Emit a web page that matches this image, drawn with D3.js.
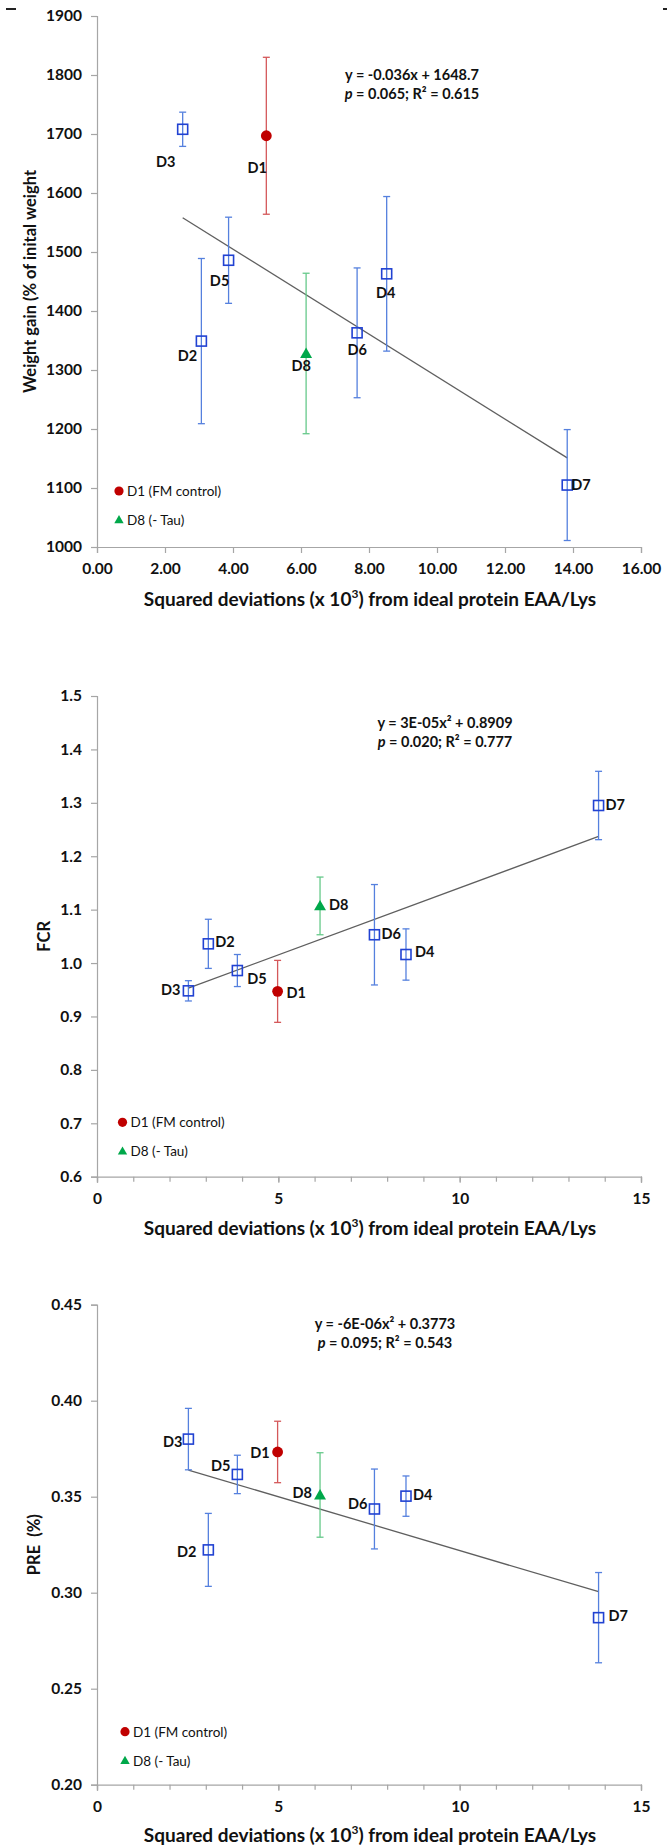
<!DOCTYPE html>
<html>
<head>
<meta charset="utf-8">
<script src="https://cdn.jsdelivr.net/npm/d3@7"></script>
<style>
  html, body { margin: 0; padding: 0; background: #fff; }
  svg { display: block; font-family: Lato, "Open Sans", sans-serif; }
</style>
</head>
<body>
<svg id="fig" width="667" height="1846"></svg>
<script>
// ---------------- DATA ----------------
const diets = ["D1", "D2", "D3", "D4", "D5", "D6", "D7", "D8"];
const groups = ["control", "test", "test", "test", "test", "test", "test", "tau"];
// squared deviations (x 10^3) from ideal protein EAA/Lys
const sqDev = [4.98, 3.07, 2.52, 8.52, 3.87, 7.65, 13.83, 6.15];

// weight gain (% of initial weight) mean and error
const wgMean = [1697, 1349, 1708, 1463, 1486, 1363, 1105, 1328];
const wgErr  = [133, 140, 29, 131, 73, 110, 94, 136];
const wgTrendX = [2.52, 13.83];
const wgTrendY = [1558, 1151];
const wgEq = ["y = -0.036x + 1648.7", "p = 0.065; R² = 0.615"];
const wgYTicks = [1000, 1100, 1200, 1300, 1400, 1500, 1600, 1700, 1800, 1900];
const wgXTicks = [0, 2, 4, 6, 8, 10, 12, 14, 16];

// FCR
const fcrMean = [0.947, 1.036, 0.948, 1.016, 0.986, 1.053, 1.295, 1.107];
const fcrErr  = [0.058, 0.046, 0.019, 0.048, 0.030, 0.094, 0.064, 0.054];
const fcrTrendX = [2.52, 13.83];
const fcrTrendY = [0.953, 1.237];
const fcrEq = ["y = 3E-05x² + 0.8909", "p = 0.020; R² = 0.777"];
const fcrYTicks = [0.6, 0.7, 0.8, 0.9, 1.0, 1.1, 1.2, 1.3, 1.4, 1.5];
const fcrXTicks = [0, 5, 10, 15];

// PRE (%)
const preMean = [0.3733, 0.3223, 0.380, 0.3503, 0.3616, 0.3436, 0.287, 0.3509];
const preErr  = [0.016, 0.019, 0.016, 0.0105, 0.010, 0.0208, 0.0235, 0.022];
const preTrendX = [2.52, 13.83];
const preTrendY = [0.3639, 0.3005];
const preEq = ["y = -6E-06x² + 0.3773", "p = 0.095; R² = 0.543"];
const preYTicks = [0.20, 0.25, 0.30, 0.35, 0.40, 0.45];
const preXTicks = [0, 5, 10, 15];

const legendLabels = ["D1 (FM control)", "D8 (- Tau)"];
const xTitle = "Squared deviations (x 10";

// ---------------- STYLE ----------------
const C = {
  axis: "#a6a6a6",
  trend: "#5f5f5f",
  blue: "#2142d2", blueErr: "#5580de",
  red: "#c00000", redErr: "#d4585a",
  green: "#00a84a", greenErr: "#66c98a",
  text: "#111"
};
const colorOf = g => g === "control" ? C.red : g === "tau" ? C.green : C.blue;
const errColorOf = g => g === "control" ? C.redErr : g === "tau" ? C.greenErr : C.blueErr;

const svg = d3.select("#fig");

// crop marks at top corners
svg.append("line").attr("x1", 6).attr("x2", 16).attr("y1", 9).attr("y2", 9).attr("stroke", "#222").attr("stroke-width", 2);
svg.append("line").attr("x1", 663).attr("x2", 667).attr("y1", 9).attr("y2", 9).attr("stroke", "#222").attr("stroke-width", 2);

function drawChart(cfg) {
  const x = d3.scaleLinear().domain(cfg.xDomain).range([97, 641]);
  const y = d3.scaleLinear().domain(cfg.yDomain).range([cfg.bottom, cfg.top]);
  const g = svg.append("g");

  // y axis
  const yAxis = d3.axisLeft(y).tickValues(cfg.yTicks).tickFormat(cfg.yFmt).tickSize(6).tickPadding(9);
  const ya = g.append("g").attr("transform", "translate(97,0)").call(yAxis);
  ya.select(".domain").attr("stroke", C.axis).attr("stroke-width", 1.2);
  ya.selectAll(".tick line").attr("stroke", C.axis).attr("stroke-width", 1.2);
  ya.selectAll(".tick text").attr("font-size", 15.5).attr("font-weight", 700).attr("fill", C.text)
    .attr("font-family", "Lato, sans-serif");

  // x axis
  const xAxis = d3.axisBottom(x).tickValues(cfg.xTicks).tickFormat(cfg.xFmt).tickSize(6).tickPadding(10);
  const xa = g.append("g").attr("transform", `translate(0,${cfg.bottom})`).call(xAxis);
  xa.select(".domain").attr("stroke", C.axis).attr("stroke-width", 1.2);
  xa.selectAll(".tick line").attr("stroke", C.axis).attr("stroke-width", 1.2);
  xa.selectAll(".tick text").attr("font-size", 15.5).attr("font-weight", 700).attr("fill", C.text)
    .attr("font-family", "Lato, sans-serif");
  if (cfg.minor) {
    const mx = d3.axisBottom(x).ticks(15).tickFormat("").tickSize(5);
    const ma = g.append("g").attr("transform", `translate(0,${cfg.bottom})`).call(mx);
    ma.select(".domain").remove();
    ma.selectAll(".tick line").attr("stroke", C.axis).attr("stroke-width", 1.2);
  }

  // x title
  const xt = g.append("text").attr("x", 370).attr("y", cfg.bottom + cfg.xTitleDy)
    .attr("text-anchor", "middle").attr("font-size", 19).attr("font-weight", 700).attr("fill", C.text);
  xt.append("tspan").text(xTitle);
  xt.append("tspan").text("3").attr("font-size", 12).attr("dy", -8);
  xt.append("tspan").text(") from ideal protein EAA/Lys").attr("dy", 8);

  // y title
  g.append("text")
    .attr("transform", `translate(${cfg.yTitleX},${(cfg.top + cfg.bottom) / 2}) rotate(-90)`)
    .attr("text-anchor", "middle").attr("font-size", 16.5).attr("font-weight", 700).attr("fill", C.text)
    .attr("dy", "0.35em").attr("xml:space", "preserve").text(cfg.yTitle);

  // trend line
  const tl = d3.line().x(d => x(d[0])).y(d => y(d[1]));
  g.append("path").attr("d", tl(d3.zip(cfg.trendX, cfg.trendY)))
    .attr("fill", "none").attr("stroke", C.trend).attr("stroke-width", 1.3);

  const pts = diets.map((d, i) => ({ name: d, grp: groups[i], x: sqDev[i], m: cfg.mean[i], e: cfg.err[i] }));

  // error bars
  const eb = g.append("g").selectAll("g").data(pts).join("g").attr("stroke", d => errColorOf(d.grp)).attr("stroke-width", 1.3);
  eb.append("line").attr("x1", d => x(d.x)).attr("x2", d => x(d.x)).attr("y1", d => y(d.m - d.e)).attr("y2", d => y(d.m + d.e));
  eb.append("line").attr("x1", d => x(d.x) - 3.5).attr("x2", d => x(d.x) + 3.5).attr("y1", d => y(d.m - d.e)).attr("y2", d => y(d.m - d.e));
  eb.append("line").attr("x1", d => x(d.x) - 3.5).attr("x2", d => x(d.x) + 3.5).attr("y1", d => y(d.m + d.e)).attr("y2", d => y(d.m + d.e));

  // markers
  pts.forEach(p => {
    const px = x(p.x), py = y(p.m);
    if (p.grp === "control") {
      g.append("circle").attr("cx", px).attr("cy", py).attr("r", 5.4).attr("fill", C.red);
    } else if (p.grp === "tau") {
      g.append("path").attr("d", d3.symbol(d3.symbolTriangle, 62)()).attr("transform", `translate(${px},${py + 1})`).attr("fill", C.green);
    } else {
      g.append("rect").attr("x", px - 5).attr("y", py - 5).attr("width", 10).attr("height", 10)
        .attr("fill", "none").attr("stroke", C.blue).attr("stroke-width", 1.6);
    }
    const lp = cfg.labelPos[p.name];
    g.append("text").attr("x", px + lp[0]).attr("y", py + lp[1]).attr("text-anchor", lp[2])
      .attr("font-size", 14.5).attr("font-weight", 700).attr("fill", C.text).text(p.name);
  });

  // equation
  const eq = g.append("g").attr("font-size", 14.5).attr("font-weight", 700).attr("fill", C.text).attr("text-anchor", "middle");
  eq.append("text").attr("x", cfg.eqX).attr("y", cfg.eqY).text(cfg.eq[0]);
  const l2 = eq.append("text").attr("x", cfg.eqX).attr("y", cfg.eqY + 19);
  l2.append("tspan").attr("font-style", "italic").text(cfg.eq[1].slice(0, 1));
  l2.append("tspan").text(cfg.eq[1].slice(1));

  // legend
  const lg = g.append("g").attr("transform", `translate(${cfg.legX},${cfg.legY})`);
  lg.append("circle").attr("cx", 0).attr("cy", 0).attr("r", 4.6).attr("fill", C.red);
  lg.append("path").attr("d", d3.symbol(d3.symbolTriangle, 38)()).attr("transform", "translate(0,29.5)").attr("fill", C.green);
  lg.selectAll("text").data(legendLabels).join("text")
    .attr("x", 8).attr("y", (d, i) => i * 29 + 5).attr("font-size", 13.5).attr("fill", C.text).text(d => d);
}

const fmt2 = d3.format(".2f"), fmt1 = d3.format(".1f");

drawChart({
  top: 16, bottom: 547, xDomain: [0, 16], yDomain: [1000, 1900],
  yTicks: wgYTicks, yFmt: d3.format("d"), xTicks: wgXTicks, xFmt: fmt2, minor: false,
  mean: wgMean, err: wgErr, trendX: wgTrendX, trendY: wgTrendY, eq: wgEq,
  eqX: 412, eqY: 80, legX: 119, legY: 491,
  yTitle: "Weight gain (% of inital weight", yTitleX: 30, xTitleDy: 59,
  labelPos: { D1: [-9, 37, "middle"], D2: [-14, 20, "middle"], D3: [-17, 38, "middle"], D4: [-1, 24, "middle"],
              D5: [-9, 26, "middle"], D6: [0, 22, "middle"], D7: [4, 5, "start"], D8: [-5, 18, "middle"] }
});

drawChart({
  top: 696, bottom: 1176.7, xDomain: [0, 15], yDomain: [0.6, 1.5],
  yTicks: fcrYTicks, yFmt: fmt1, xTicks: fcrXTicks, xFmt: d3.format("d"), minor: true,
  mean: fcrMean, err: fcrErr, trendX: fcrTrendX, trendY: fcrTrendY, eq: fcrEq,
  eqX: 445, eqY: 728, legX: 122.5, legY: 1122.3,
  yTitle: "FCR", yTitleX: 44, xTitleDy: 58,
  labelPos: { D1: [9, 7, "start"], D2: [7, 3, "start"], D3: [-8, 4, "end"], D4: [9, 2, "start"],
              D5: [10, 13, "start"], D6: [7, 4, "start"], D7: [7, 5, "start"], D8: [9, 4, "start"] }
});

drawChart({
  top: 1304.7, bottom: 1784.7, xDomain: [0, 15], yDomain: [0.20, 0.45],
  yTicks: preYTicks, yFmt: fmt2, xTicks: preXTicks, xFmt: d3.format("d"), minor: true,
  mean: preMean, err: preErr, trendX: preTrendX, trendY: preTrendY, eq: preEq,
  eqX: 385, eqY: 1328.5, legX: 125, legY: 1731.7,
  yTitle: "PRE  (%)", yTitleX: 34, xTitleDy: 57,
  labelPos: { D1: [-8, 6, "end"], D2: [-12, 7, "end"], D3: [-6, 8, "end"], D4: [7, 4, "start"],
              D5: [-7, -3, "end"], D6: [-7, 0, "end"], D7: [10, 3, "start"], D8: [-8, 3, "end"] }
});
</script>
</body>
</html>
